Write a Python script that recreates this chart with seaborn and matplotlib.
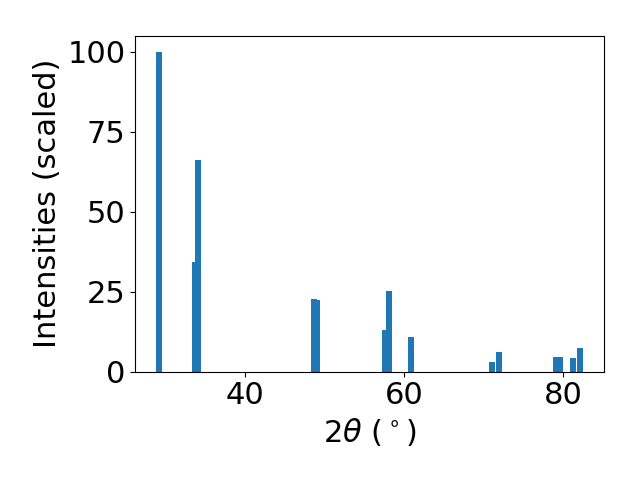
import matplotlib
matplotlib.use("Agg")
import matplotlib.pyplot as plt
import seaborn as sns

# peak positions (2theta, deg) and scaled intensities
two_theta = [29.30, 33.74, 34.12, 48.73, 49.10, 57.67, 58.17, 60.88,
             71.02, 71.90, 79.08, 79.58, 81.28, 82.10]
intensity = [100.0, 34.2, 66.1, 22.6, 22.3, 12.9, 25.1, 10.7,
             3.1, 6.0, 4.4, 4.4, 4.1, 7.5]

sns.set_style("white", {"xtick.bottom": True, "ytick.left": True,
                        "axes.edgecolor": "black", "text.color": "black",
                        "xtick.color": "black", "ytick.color": "black",
                        "axes.labelcolor": "black"})
plt.rcParams["font.family"] = ["DejaVu Sans"]
color = sns.color_palette("tab10")[0]

fig, ax = plt.subplots(figsize=(6.4, 4.8), dpi=100)
ax.bar(two_theta, intensity, width=0.75, color=color, edgecolor="none", linewidth=0)

ax.set_xlabel(r"2$\theta$ ($^\circ$)", fontsize=22)
ax.set_ylabel("Intensities (scaled)", fontsize=22)
ax.tick_params(labelsize=22, direction="out", length=3.5, width=0.8)
ax.set_yticks([0, 25, 50, 75, 100])
ax.set_xticks([40, 60, 80])
for s in ax.spines.values():
    s.set_linewidth(0.8)

fig.subplots_adjust(left=0.211, right=0.944, top=0.926, bottom=0.226)
fig.savefig("out.png", dpi=100)
